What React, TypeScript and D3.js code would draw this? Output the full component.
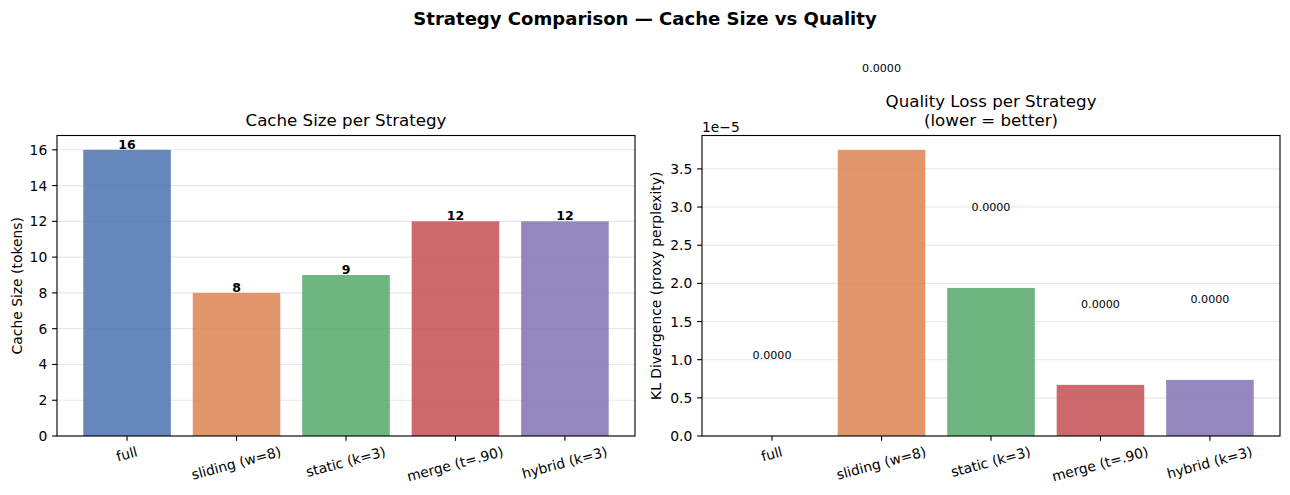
//@ts-nocheck
import * as d3 from "d3";
import React, { useEffect, useRef } from "react";

const strategies = ["full", "sliding (w=8)", "static (k=3)", "merge (t=.90)", "hybrid (k=3)"];
const cacheSizes = [16, 8, 9, 12, 12];
const klDivergence = [0, 3.75e-5, 1.94e-5, 0.67e-5, 0.735e-5];
const cacheTicks = [0, 2, 4, 6, 8, 10, 12, 14, 16];
const klTicks = [0, 0.5e-5, 1e-5, 1.5e-5, 2e-5, 2.5e-5, 3e-5, 3.5e-5];
const barColors = ["#4C72B0", "#DD8452", "#55A868", "#C44E52", "#8172B3"];

const W = 1290;
const H = 495;
const FONT = "DejaVu Sans, sans-serif";
const PT = 100 / 72; // px per point

let measureCtx = null;
function textWidth(text, sizePx, weight = "normal") {
  if (!measureCtx) measureCtx = document.createElement("canvas").getContext("2d");
  measureCtx.font = `${weight} ${sizePx}px "DejaVu Sans"`;
  return measureCtx.measureText(text).width;
}

function panel(svg, o) {
  const tickLen = 3.5 * PT;
  const tickPad = 3.5 * PT;
  const tickFs = 10 * PT;

  const x = d3
    .scaleBand()
    .domain(strategies)
    .range([o.left, o.right])
    .paddingInner(0.2)
    .paddingOuter(0.24);
  const y = d3
    .scaleLinear()
    .domain([0, d3.max(o.values) * 1.05])
    .range([o.bottom, o.top]);

  const g = svg.append("g");

  // horizontal grid, under the bars
  g.append("g")
    .selectAll("line")
    .data(o.ticks)
    .join("line")
    .attr("x1", o.left)
    .attr("x2", o.right)
    .attr("y1", (d) => y(d))
    .attr("y2", (d) => y(d))
    .attr("stroke", "#b0b0b0")
    .attr("stroke-opacity", 0.3)
    .attr("stroke-width", 0.8 * PT);

  g.append("g")
    .selectAll("rect")
    .data(o.values)
    .join("rect")
    .attr("x", (d, i) => x(strategies[i]))
    .attr("width", x.bandwidth())
    .attr("y", (d) => y(d))
    .attr("height", (d) => o.bottom - y(d))
    .attr("fill", (d, i) => barColors[i])
    .attr("fill-opacity", 0.85);

  // value labels
  g.append("g")
    .selectAll("text")
    .data(o.values)
    .join("text")
    .attr("x", (d, i) => x(strategies[i]) + x.bandwidth() / 2)
    .attr("y", (d) => y(d + o.labelOffset) - 1)
    .attr("text-anchor", "middle")
    .attr("font-family", FONT)
    .attr("font-size", o.labelSize)
    .attr("font-weight", o.labelWeight)
    .attr("fill", "#000")
    .text((d) => o.labelFmt(d));

  // frame
  g.append("rect")
    .attr("x", o.left)
    .attr("y", o.top)
    .attr("width", o.right - o.left)
    .attr("height", o.bottom - o.top)
    .attr("fill", "none")
    .attr("stroke", "#000")
    .attr("stroke-width", 0.8 * PT);

  // y ticks
  const yt = g.append("g").selectAll("g").data(o.ticks).join("g");
  yt.append("line")
    .attr("x1", o.left - tickLen)
    .attr("x2", o.left)
    .attr("y1", (d) => y(d))
    .attr("y2", (d) => y(d))
    .attr("stroke", "#000")
    .attr("stroke-width", 0.8 * PT);
  yt.append("text")
    .attr("x", o.left - tickLen - tickPad)
    .attr("y", (d) => y(d))
    .attr("dy", "0.36em")
    .attr("text-anchor", "end")
    .attr("font-family", FONT)
    .attr("font-size", tickFs)
    .attr("fill", "#000")
    .text((d) => o.tickFmt(d));

  // x ticks with labels rotated 15 degrees
  const xt = g.append("g").selectAll("g").data(strategies).join("g");
  xt.append("line")
    .attr("x1", (d) => x(d) + x.bandwidth() / 2)
    .attr("x2", (d) => x(d) + x.bandwidth() / 2)
    .attr("y1", o.bottom)
    .attr("y2", o.bottom + tickLen)
    .attr("stroke", "#000")
    .attr("stroke-width", 0.8 * PT);
  const rad = (15 * Math.PI) / 180;
  xt.append("text")
    .attr("transform", (d) => {
      const w = textWidth(d, tickFs);
      const h = tickFs;
      const bh = w * Math.sin(rad) + h * Math.cos(rad);
      const cy = o.bottom + tickLen + tickPad + bh / 2;
      return `translate(${x(d) + x.bandwidth() / 2},${cy}) rotate(-15)`;
    })
    .attr("y", 0.26 * tickFs)
    .attr("text-anchor", "middle")
    .attr("font-family", FONT)
    .attr("font-size", tickFs)
    .attr("fill", "#000")
    .text((d) => d);

  // y axis label
  g.append("text")
    .attr("transform", `translate(${o.ylabelX},${(o.top + o.bottom) / 2}) rotate(-90)`)
    .attr("text-anchor", "middle")
    .attr("font-family", FONT)
    .attr("font-size", tickFs)
    .attr("fill", "#000")
    .text(o.ylabel);

  // title
  const cx = (o.left + o.right) / 2;
  const titleFs = 12 * PT;
  o.title.forEach((line, i) => {
    g.append("text")
      .attr("x", cx)
      .attr("y", 126 - (o.title.length - 1 - i) * titleFs * 1.17)
      .attr("text-anchor", "middle")
      .attr("font-family", FONT)
      .attr("font-size", titleFs)
      .attr("fill", "#000")
      .text(line);
  });

  if (o.offsetText) {
    g.append("text")
      .attr("x", o.left)
      .attr("y", o.top - 4)
      .attr("font-family", FONT)
      .attr("font-size", tickFs)
      .attr("fill", "#000")
      .text(o.offsetText);
  }
}

const chart = () => {
  const svg = d3
    .create("svg")
    .attr("width", W)
    .attr("height", H)
    .attr("viewBox", [0, 0, W, H])
    .attr("style", "position:absolute;left:0;top:0;background:#fff;");

  svg.append("rect").attr("width", W).attr("height", H).attr("fill", "#fff");

  svg
    .append("text")
    .attr("x", 645)
    .attr("y", 24.5)
    .attr("text-anchor", "middle")
    .attr("font-family", FONT)
    .attr("font-size", 13 * PT)
    .attr("font-weight", "bold")
    .attr("fill", "#000")
    .text("Strategy Comparison — Cache Size vs Quality");

  panel(svg, {
    left: 57,
    right: 635,
    top: 135.5,
    bottom: 436,
    values: cacheSizes,
    ticks: cacheTicks,
    tickFmt: (d) => String(d),
    labelFmt: (d) => String(d),
    labelOffset: 0,
    labelSize: 9 * PT,
    labelWeight: "bold",
    ylabel: "Cache Size (tokens)",
    ylabelX: 22,
    title: ["Cache Size per Strategy"],
  });

  panel(svg, {
    left: 702,
    right: 1280,
    top: 135.5,
    bottom: 436,
    values: klDivergence,
    ticks: klTicks,
    tickFmt: (d) => (d / 1e-5).toFixed(1),
    labelFmt: (d) => d.toFixed(4),
    labelOffset: 1e-5,
    labelSize: 8 * PT,
    labelWeight: "normal",
    ylabel: "KL Divergence (proxy perplexity)",
    ylabelX: 661,
    title: ["Quality Loss per Strategy", "(lower = better)"],
    offsetText: "1e\u22125",
  });

  return svg.node();
};

export default function App() {
  const holderRef = useRef<HTMLDivElement | null>(null);

  useEffect(() => {
    document.body.style.margin = "0";
    const holder = holderRef.current;
    if (!holder || holder.hasChildNodes()) return;
    holder.appendChild(chart());
  }, []);

  return <div ref={holderRef}></div>;
}
